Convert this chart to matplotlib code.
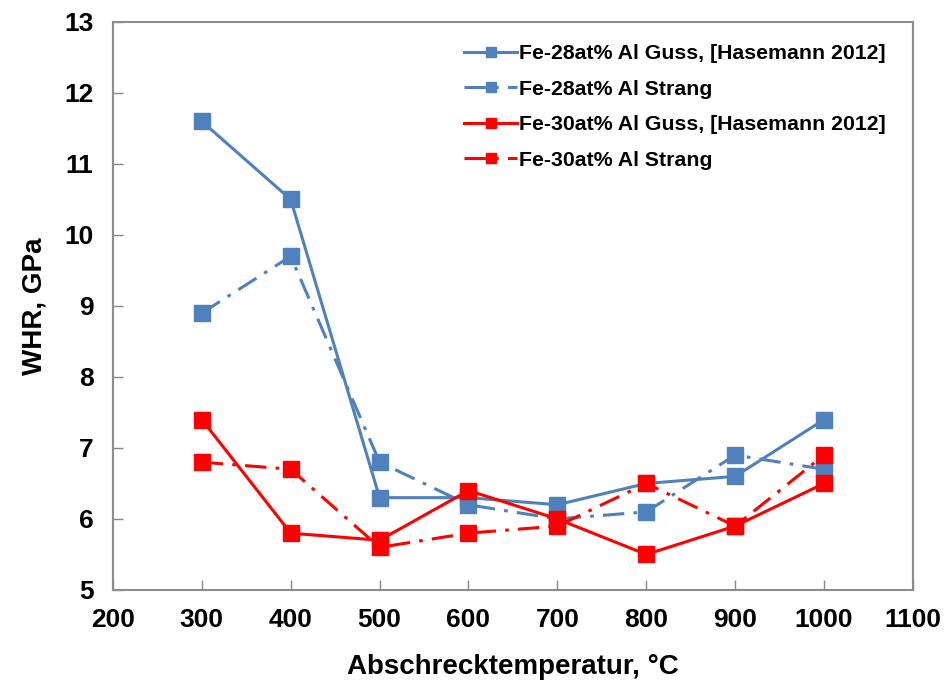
import matplotlib.pyplot as plt

plt.rcParams['font.family'] = ['Liberation Sans', 'DejaVu Sans']
plt.rcParams['font.weight'] = 'bold'

# Abschrecktemperatur in °C
temps = [300, 400, 500, 600, 700, 800, 900, 1000]

# WHR in GPa
fe28_guss = [11.6, 10.5, 6.3, 6.3, 6.2, 6.5, 6.6, 7.4]
fe28_strang = [8.9, 9.7, 6.8, 6.2, 6.0, 6.1, 6.9, 6.7]
fe30_guss = [7.4, 5.8, 5.7, 6.4, 6.0, 5.5, 5.9, 6.5]
fe30_strang = [6.8, 6.7, 5.6, 5.8, 5.9, 6.5, 5.9, 6.9]

labels = ['Fe-28at% Al Guss, [Hasemann 2012]',
          'Fe-28at% Al Strang',
          'Fe-30at% Al Guss, [Hasemann 2012]',
          'Fe-30at% Al Strang']

blue = '#4F81BD'
red = '#FF0000'
dashdot = (0, (7, 3, 1.2, 3))

fig = plt.figure(figsize=(9.49, 6.86), dpi=100)
ax = fig.add_axes([0.119, 0.140, 0.843, 0.828])

ax.plot(temps, fe28_guss, '-', color=blue, lw=2.2, marker='s', ms=11, label=labels[0])
ax.plot(temps, fe28_strang, linestyle=dashdot, color=blue, lw=2.2, marker='s', ms=11, label=labels[1])
ax.plot(temps, fe30_guss, '-', color=red, lw=2.2, marker='s', ms=11, label=labels[2])
ax.plot(temps, fe30_strang, linestyle=dashdot, color=red, lw=2.2, marker='s', ms=11, label=labels[3])

ax.set_xlim(200, 1100)
ax.set_ylim(5, 13)
ax.set_xticks(range(200, 1101, 100))
ax.set_yticks(range(5, 14))
ax.tick_params(direction='in', length=7, width=1, color='#888888',
               labelsize=19, pad=13)
ax.tick_params(axis='y', pad=14)
for s in ax.spines.values():
    s.set_color('#8c8c8c')
    s.set_linewidth(1.5)

ax.set_xlabel('Abschrecktemperatur, °C', fontsize=20, fontweight='bold', labelpad=16)
ax.set_ylabel('WHR, GPa', fontsize=20, fontweight='bold', labelpad=12)

leg = ax.legend(loc='upper right', frameon=False, fontsize=15.3,
                handlelength=2.5, handletextpad=0.1, labelspacing=0.78,
                markerscale=0.7, borderaxespad=0.3,
                bbox_to_anchor=(0.985, 0.987))

fig.savefig('out.png', dpi=100)
